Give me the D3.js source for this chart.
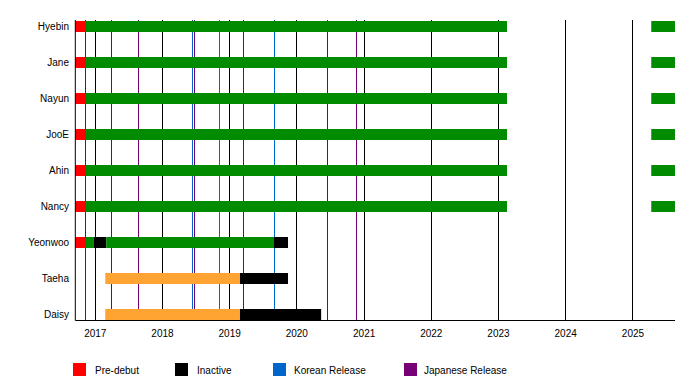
<!DOCTYPE html>
<html>
<head>
<meta charset="utf-8">
<script src="https://cdn.jsdelivr.net/npm/d3@7"></script>
<style>
  html, body { margin: 0; padding: 0; background: #fff; }
  text { font-family: "Liberation Sans", Arial, sans-serif; }
</style>
</head>
<body>
<svg id="chart" width="700" height="380"></svg>
<script>
// ---- data ----
const members = ["Hyebin", "Jane", "Nayun", "JooE", "Ahin", "Nancy", "Yeonwoo", "Taeha", "Daisy"];
const chartStart = "2016-09-17";
const chartEnd = "2025-08-20";
// [member, start, end, type]
const segments = [
  ["Hyebin", "2016-09-17", "2016-11-10", "predebut"],
  ["Hyebin", "2016-11-10", "2023-02-19", "member"],
  ["Hyebin", "2025-04-13", "2025-08-20", "member"],
  ["Jane", "2016-09-17", "2016-11-10", "predebut"],
  ["Jane", "2016-11-10", "2023-02-19", "member"],
  ["Jane", "2025-04-13", "2025-08-20", "member"],
  ["Nayun", "2016-09-17", "2016-11-10", "predebut"],
  ["Nayun", "2016-11-10", "2023-02-19", "member"],
  ["Nayun", "2025-04-13", "2025-08-20", "member"],
  ["JooE", "2016-09-17", "2016-11-10", "predebut"],
  ["JooE", "2016-11-10", "2023-02-19", "member"],
  ["JooE", "2025-04-13", "2025-08-20", "member"],
  ["Ahin", "2016-09-17", "2016-11-10", "predebut"],
  ["Ahin", "2016-11-10", "2023-02-19", "member"],
  ["Ahin", "2025-04-13", "2025-08-20", "member"],
  ["Nancy", "2016-09-17", "2016-11-10", "predebut"],
  ["Nancy", "2016-11-10", "2023-02-19", "member"],
  ["Nancy", "2025-04-13", "2025-08-20", "member"],
  ["Yeonwoo", "2016-09-17", "2016-11-10", "predebut"],
  ["Yeonwoo", "2016-11-10", "2016-12-25", "member"],
  ["Yeonwoo", "2016-12-25", "2017-03-04", "inactive"],
  ["Yeonwoo", "2017-03-04", "2019-09-02", "member"],
  ["Yeonwoo", "2019-09-02", "2019-11-17", "inactive"],
  ["Taeha", "2017-02-27", "2019-03-01", "joined"],
  ["Taeha", "2019-03-01", "2019-11-17", "inactive"],
  ["Daisy", "2017-02-27", "2019-03-01", "joined"],
  ["Daisy", "2019-03-01", "2020-05-15", "inactive"]
];
const koreanReleases = ["2018-06-13", "2018-11-09", "2019-09-04"];
const japaneseReleases = ["2016-11-10", "2017-04-01", "2017-08-23", "2018-01-03", "2018-06-26",
  "2019-03-20", "2019-12-30", "2020-06-16", "2020-11-19"];
const yearTicks = [2017, 2018, 2019, 2020, 2021, 2022, 2023, 2024, 2025];
const legendLabels = ["Pre-debut", "Inactive", "Korean Release", "Japanese Release"];
const legendKeys = ["predebut", "inactive", "korean", "japanese"];

// ---- styles ----
const colors = {
  predebut: "#ff0000",
  member: "#008b00",
  joined: "#ffa333",
  inactive: "#000000",
  korean: "#0066cc",
  japanese: "#770077"
};

const parse = d3.timeParse("%Y-%m-%d");
const svg = d3.select("#chart");
const plotLeft = 75.3, plotRight = 675, plotTop = 20, plotBottom = 320;

const x = d3.scaleTime().domain([parse(chartStart), parse(chartEnd)]).range([plotLeft, plotRight]);
const y = d3.scalePoint().domain(members).range([26.5, 314.5]);
const barH = 11;

// release lines (behind bars)
const g = svg.append("g");
g.selectAll("line.jp").data(japaneseReleases).enter().append("line")
  .attr("x1", d => Math.round(x(parse(d))) + 0.5).attr("x2", d => Math.round(x(parse(d))) + 0.5)
  .attr("y1", plotTop).attr("y2", plotBottom)
  .attr("stroke", colors.japanese).attr("stroke-width", 1);
g.selectAll("line.kr").data(koreanReleases).enter().append("line")
  .attr("x1", d => Math.round(x(parse(d))) + 0.5).attr("x2", d => Math.round(x(parse(d))) + 0.5)
  .attr("y1", plotTop).attr("y2", plotBottom)
  .attr("stroke", colors.korean).attr("stroke-width", 1);

// year grid lines
g.selectAll("line.yr").data(yearTicks).enter().append("line")
  .attr("x1", d => Math.round(x(new Date(d, 0, 1))) + 0.5)
  .attr("x2", d => Math.round(x(new Date(d, 0, 1))) + 0.5)
  .attr("y1", plotTop).attr("y2", plotBottom)
  .attr("stroke", "#000").attr("stroke-width", 1);

// bars
svg.append("g").selectAll("rect").data(segments).enter().append("rect")
  .attr("x", d => x(parse(d[1])))
  .attr("width", d => x(parse(d[2])) - x(parse(d[1])))
  .attr("y", d => y(d[0]) - barH / 2)
  .attr("height", barH)
  .attr("fill", d => colors[d[3]]);

// axes lines
svg.append("line").attr("x1", plotLeft).attr("x2", plotLeft).attr("y1", plotTop).attr("y2", plotBottom + 0.5)
  .attr("stroke", "#000");
svg.append("line").attr("x1", plotLeft).attr("x2", plotRight).attr("y1", plotBottom + 0.5).attr("y2", plotBottom + 0.5)
  .attr("stroke", "#000");

// bottom axis labels
const xAxis = d3.axisBottom(x)
  .tickValues(yearTicks.map(yr => new Date(yr, 0, 1)))
  .tickFormat(d3.timeFormat("%Y"))
  .tickSize(0).tickPadding(10);
const ax = svg.append("g").attr("transform", `translate(0,${plotBottom})`).call(xAxis);
ax.select(".domain").remove();
ax.selectAll("text").attr("font-size", 10).attr("fill", "#000")
  .attr("font-family", "'Liberation Sans', Arial, sans-serif");

// member labels
svg.append("g").selectAll("text").data(members).enter().append("text")
  .attr("x", 69).attr("y", d => y(d)).attr("dy", "0.35em")
  .attr("text-anchor", "end").attr("font-size", 10).attr("fill", "#000")
  .text(d => d);

// legend
const legendX = [73, 175, 273, 404];
const legendTextX = [95, 197, 294, 424];
const lg = svg.append("g");
legendKeys.forEach((k, i) => {
  lg.append("rect").attr("x", legendX[i]).attr("y", 363).attr("width", 13).attr("height", 13)
    .attr("fill", colors[k]);
  lg.append("text").attr("x", legendTextX[i]).attr("y", 370).attr("dy", "0.35em")
    .attr("font-size", 10).attr("fill", "#000").text(legendLabels[i]);
});
</script>
</body>
</html>
